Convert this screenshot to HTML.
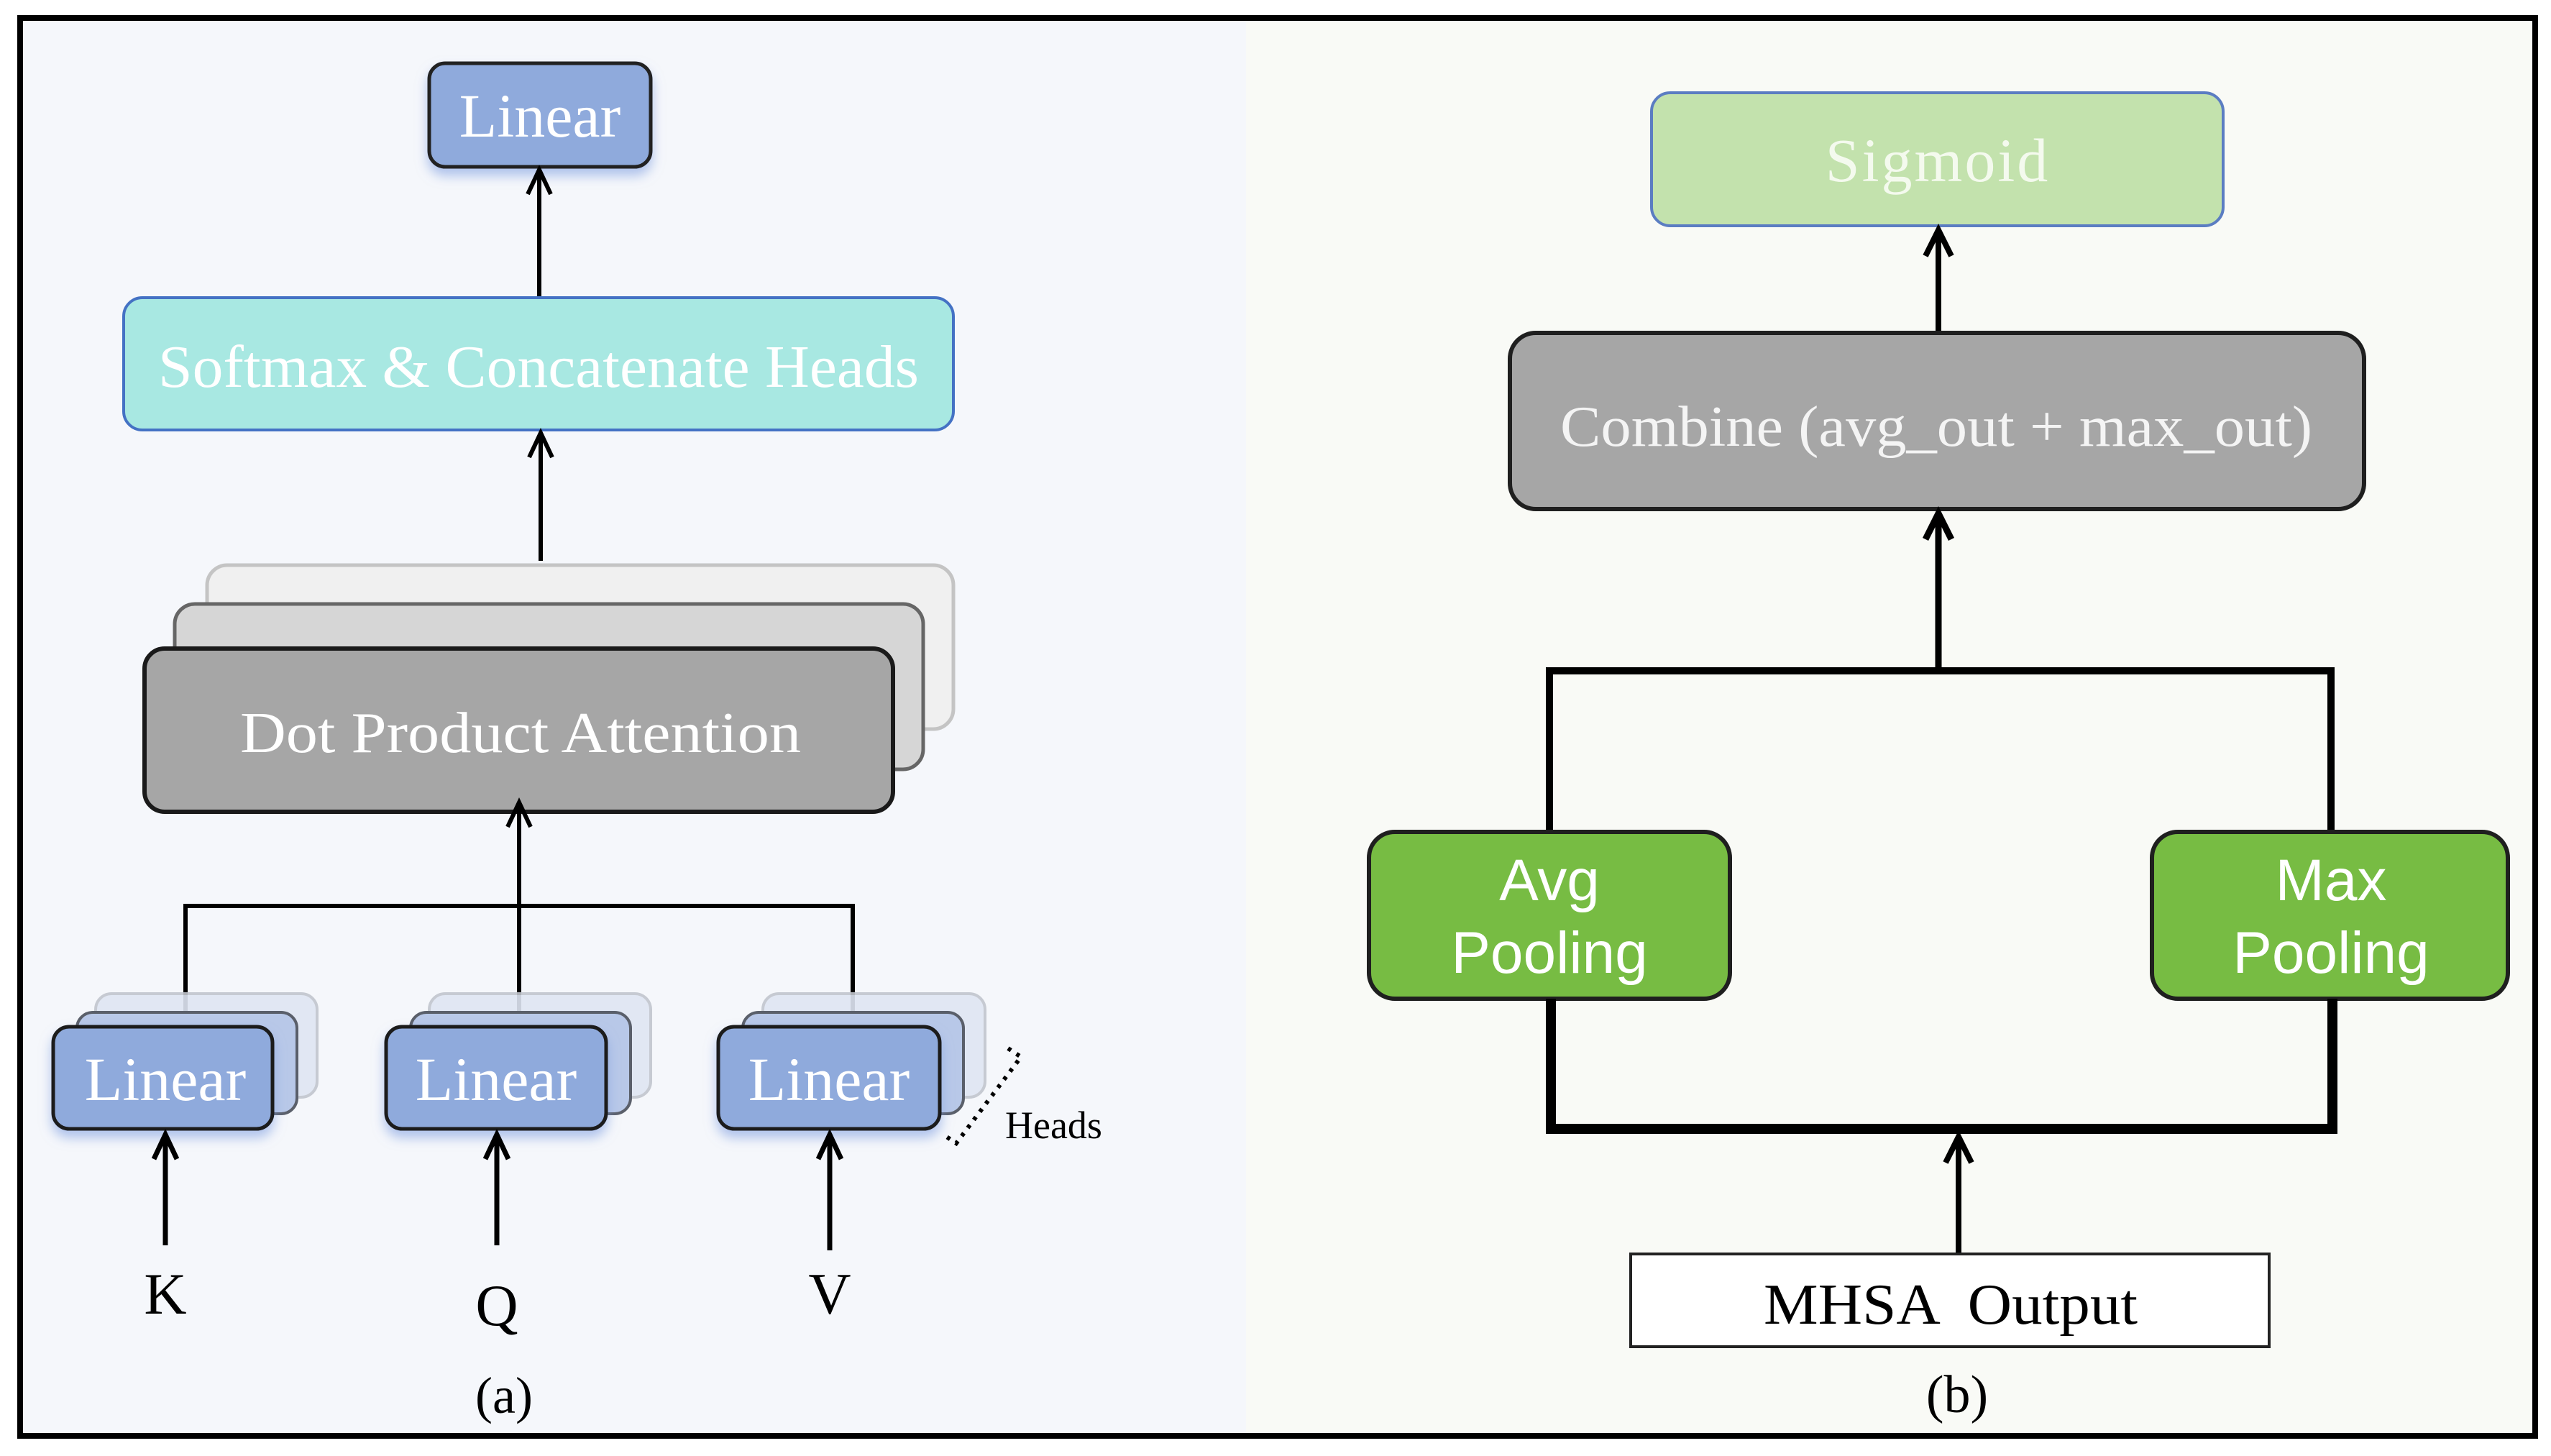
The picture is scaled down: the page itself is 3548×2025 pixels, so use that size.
<!DOCTYPE html>
<html><head><meta charset="utf-8"><style>html,body{margin:0;padding:0;background:#fff}svg{display:block}</style></head>
<body>
<svg xmlns="http://www.w3.org/2000/svg" width="3548" height="2025" viewBox="0 0 3548 2025">
<defs>
<filter id="sh" x="-20%" y="-20%" width="140%" height="160%"><feDropShadow dx="0" dy="10" stdDeviation="8" flood-color="#7f9ee0" flood-opacity="0.6"/></filter>
</defs>
<rect x="0" y="0" width="3548" height="2025" fill="#fff"/>
<rect x="28" y="25" width="1705" height="1972" fill="#f5f7fb"/>
<rect x="1733" y="25" width="1793" height="1972" fill="#f9faf6"/>
<rect x="28" y="25" width="3498" height="1972" fill="none" stroke="#000" stroke-width="8"/>

<g font-family="Liberation Serif, serif" fill="#fff" text-anchor="middle">
<!-- Left panel -->
<rect x="597" y="88" width="308" height="144" rx="22" fill="#8faadc" stroke="#222" stroke-width="5" filter="url(#sh)"/>
<text x="751" y="190" font-size="86">Linear</text>
<line x1="750" y1="414" x2="750" y2="238" stroke="#000" stroke-width="6"/>
<path d="M734 270 L750 236 L766 270" fill="none" stroke="#000" stroke-width="6"/>

<rect x="172" y="414" width="1154" height="184" rx="26" fill="#a8e8e2" stroke="#4472c4" stroke-width="4"/>
<text x="749" y="538" font-size="84" textLength="1058" lengthAdjust="spacingAndGlyphs">Softmax &amp; Concatenate Heads</text>
<line x1="752" y1="780" x2="752" y2="604" stroke="#000" stroke-width="6"/>
<path d="M736 636 L752 602 L768 636" fill="none" stroke="#000" stroke-width="6"/>

<rect x="288" y="786" width="1038" height="228" rx="28" fill="#f0f0f0" stroke="#c4c4c4" stroke-width="5"/>
<rect x="243" y="840" width="1041" height="230" rx="28" fill="#d6d6d6" stroke="#666" stroke-width="5"/>
<rect x="201" y="902" width="1041" height="227" rx="28" fill="#a6a6a6" stroke="#1a1a1a" stroke-width="6"/>
<text x="724" y="1046" font-size="80" textLength="780" lengthAdjust="spacingAndGlyphs">Dot Product Attention</text>

<path d="M258 1408 L258 1260 L1186 1260 L1186 1408" fill="none" stroke="#000" stroke-width="6"/>
<line x1="722" y1="1408" x2="722" y2="1118" stroke="#000" stroke-width="6"/>
<path d="M706 1150 L722 1116 L738 1150" fill="none" stroke="#000" stroke-width="6"/>

<g>
<rect x="133" y="1382" width="308" height="144" rx="22" fill="#dfe6f3" stroke="#c2c6ce" stroke-width="4" opacity="0.9"/>
<rect x="107" y="1408" width="306" height="141" rx="22" fill="#b8c8e8" stroke="#5a5f6a" stroke-width="4"/>
<rect x="74" y="1428" width="305" height="142" rx="22" fill="#8faadc" stroke="#1a1a1a" stroke-width="5" filter="url(#sh)"/>
<text x="230" y="1530" font-size="86">Linear</text>
</g>
<g>
<rect x="597" y="1382" width="308" height="144" rx="22" fill="#dfe6f3" stroke="#c2c6ce" stroke-width="4" opacity="0.9"/>
<rect x="571" y="1408" width="306" height="141" rx="22" fill="#b8c8e8" stroke="#5a5f6a" stroke-width="4"/>
<rect x="537" y="1428" width="306" height="142" rx="22" fill="#8faadc" stroke="#1a1a1a" stroke-width="5" filter="url(#sh)"/>
<text x="690" y="1530" font-size="86">Linear</text>
</g>
<g>
<rect x="1061" y="1382" width="309" height="144" rx="22" fill="#dfe6f3" stroke="#c2c6ce" stroke-width="4" opacity="0.9"/>
<rect x="1033" y="1408" width="307" height="141" rx="22" fill="#b8c8e8" stroke="#5a5f6a" stroke-width="4"/>
<rect x="999" y="1428" width="308" height="142" rx="22" fill="#8faadc" stroke="#1a1a1a" stroke-width="5" filter="url(#sh)"/>
<text x="1153" y="1530" font-size="86">Linear</text>
</g>

<line x1="230" y1="1732" x2="230" y2="1580" stroke="#000" stroke-width="7"/>
<path d="M214 1612 L230 1578 L246 1612" fill="none" stroke="#000" stroke-width="7"/>
<line x1="691" y1="1732" x2="691" y2="1580" stroke="#000" stroke-width="7"/>
<path d="M675 1612 L691 1578 L707 1612" fill="none" stroke="#000" stroke-width="7"/>
<line x1="1154" y1="1739" x2="1154" y2="1580" stroke="#000" stroke-width="7"/>
<path d="M1138 1612 L1154 1578 L1170 1612" fill="none" stroke="#000" stroke-width="7"/>

<path d="M1402 1458 L1420 1470 L1330 1590 L1312 1578" fill="none" stroke="#000" stroke-width="6" stroke-dasharray="5 9"/>
<g fill="#000">
<text x="230" y="1827" font-size="82">K</text>
<text x="691" y="1843" font-size="82">Q</text>
<text x="1154" y="1827" font-size="82">V</text>
<text x="701" y="1965" font-size="72">(a)</text>
<text x="1398" y="1583" font-size="54" text-anchor="start">Heads</text>
</g>

<!-- Right panel -->
<rect x="2297" y="129" width="795" height="185" rx="26" fill="#c3e2ad" stroke="#5b7dc2" stroke-width="4"/>
<text x="2695" y="252" font-size="86" fill="#f4faee" letter-spacing="3">Sigmoid</text>
<line x1="2696" y1="463" x2="2696" y2="322" stroke="#000" stroke-width="8"/>
<path d="M2678 356 L2696 320 L2714 356" fill="none" stroke="#000" stroke-width="8"/>

<rect x="2100" y="463" width="1188" height="245" rx="36" fill="#a6a6a6" stroke="#1f1f1f" stroke-width="6"/>
<text x="2693" y="620" font-size="80" fill="#f4f4f4" textLength="1046" lengthAdjust="spacingAndGlyphs">Combine (avg_out + max_out)</text>

<path d="M2155 1156 L2155 933 L3242 933 L3242 1156" fill="none" stroke="#000" stroke-width="10"/>
<line x1="2696" y1="933" x2="2696" y2="716" stroke="#000" stroke-width="9"/>
<path d="M2678 750 L2696 714 L2714 750" fill="none" stroke="#000" stroke-width="9"/>

<rect x="1904" y="1157" width="502" height="232" rx="36" fill="#77bc43" stroke="#1f1f1f" stroke-width="6"/>
<rect x="2993" y="1157" width="495" height="232" rx="36" fill="#77bc43" stroke="#1f1f1f" stroke-width="6"/>
<g font-family="Liberation Sans, sans-serif" font-size="82">
<text x="2155" y="1252">Avg</text>
<text x="2155" y="1353">Pooling</text>
<text x="3242" y="1252">Max</text>
<text x="3242" y="1353">Pooling</text>
</g>
<path d="M2157 1389 L2157 1570 L3244 1570 L3244 1389" fill="none" stroke="#000" stroke-width="14"/>
<line x1="2724" y1="1744" x2="2724" y2="1585" stroke="#000" stroke-width="8"/>
<path d="M2706 1617 L2724 1581 L2742 1617" fill="none" stroke="#000" stroke-width="8"/>

<rect x="2268" y="1744" width="888" height="129" fill="#fff" stroke="#222" stroke-width="4"/>
<g fill="#000">
<text x="2713" y="1841" font-size="80" xml:space="preserve" textLength="520" lengthAdjust="spacingAndGlyphs">MHSA  Output</text>
<text x="2722" y="1964" font-size="74">(b)</text>
</g>
</g>
</svg>
</body></html>
